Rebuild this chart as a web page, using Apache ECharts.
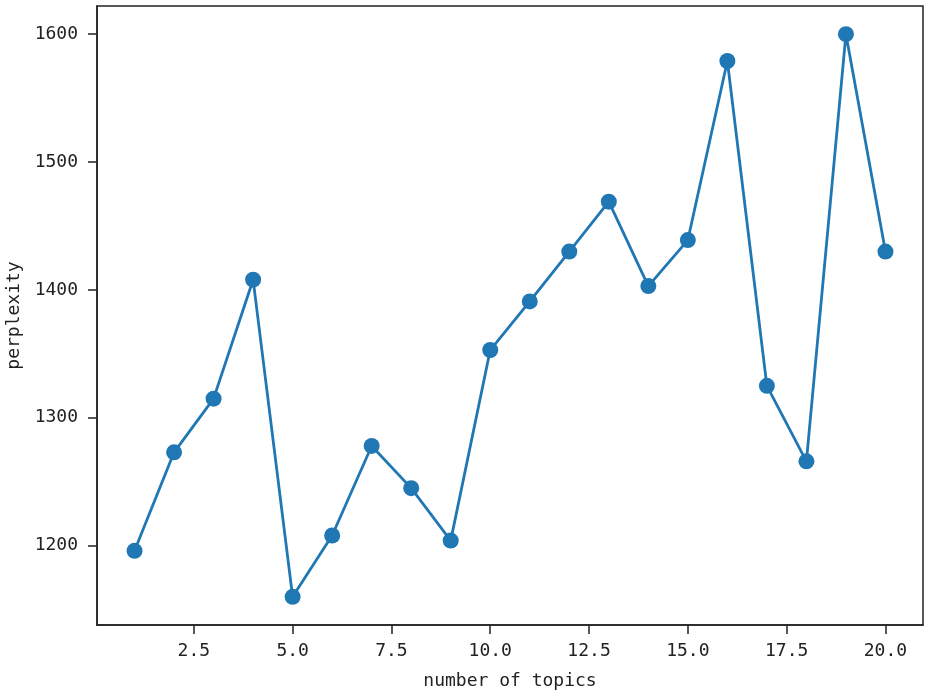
<!DOCTYPE html>
<html>
<head>
<meta charset="utf-8">
<script src="https://cdn.jsdelivr.net/npm/echarts@6/dist/echarts.min.js"></script>
<style>
html,body{margin:0;padding:0;background:#fff;}
#chart{width:931px;height:696px;}
</style>
</head>
<body>
<div id="chart"></div>
<script>
const topics = [1,2,3,4,5,6,7,8,9,10,11,12,13,14,15,16,17,18,19,20];
const perplexity = [1196,1273,1315,1408,1160,1208,1278,1245,1204,1353,1391,1430,1469,1403,1439,1579,1325,1266,1600,1430];
const xTicks = [2.5,5,7.5,10,12.5,15,17.5,20];
const yTicks = [1200,1300,1400,1500,1600];

const font = '"DejaVu Sans Mono", "Liberation Mono", monospace';
const chart = echarts.init(document.getElementById('chart'), null, {renderer:'canvas'});
chart.setOption({
  animation:false,
  backgroundColor:'#fff',
  grid:{left:97,right:8,top:6,bottom:71,show:true,borderColor:'#222',borderWidth:1.5,backgroundColor:'transparent',containLabel:false,outerBoundsMode:'none'},
  xAxis:{
    type:'value', min:0.05, max:20.95,
    name:'number of topics', nameLocation:'middle', nameGap:47,
    nameTextStyle:{fontFamily:font,fontSize:18,color:'#222'},
    axisLine:{show:true,lineStyle:{color:'#222',width:1.5}},
    axisTick:{show:true,length:9,customValues:xTicks,lineStyle:{color:'#222',width:1.5}},
    axisLabel:{customValues:xTicks,margin:17,fontFamily:font,fontSize:18,color:'#222',formatter:v=>Number(v).toFixed(1)},
    splitLine:{show:false}
  },
  yAxis:{
    type:'value', min:1138, max:1622,
    name:'perplexity', nameLocation:'middle', nameGap:73, nameRotate:90,
    nameTextStyle:{fontFamily:font,fontSize:18,color:'#222'},
    axisLine:{show:true,lineStyle:{color:'#222',width:1.5}},
    axisTick:{show:true,length:9,customValues:yTicks,lineStyle:{color:'#222',width:1.5}},
    axisLabel:{customValues:yTicks,margin:19,fontFamily:font,fontSize:18,color:'#222',formatter:v=>String(v)},
    splitLine:{show:false}
  },
  series:[{
    type:'line',
    data:topics.map((t,i)=>[t,perplexity[i]]),
    symbol:'circle', symbolSize:16,
    itemStyle:{color:'#1f77b4'},
    lineStyle:{color:'#1f77b4',width:2.8},
    z:3
  }]
});
</script>
</body>
</html>
